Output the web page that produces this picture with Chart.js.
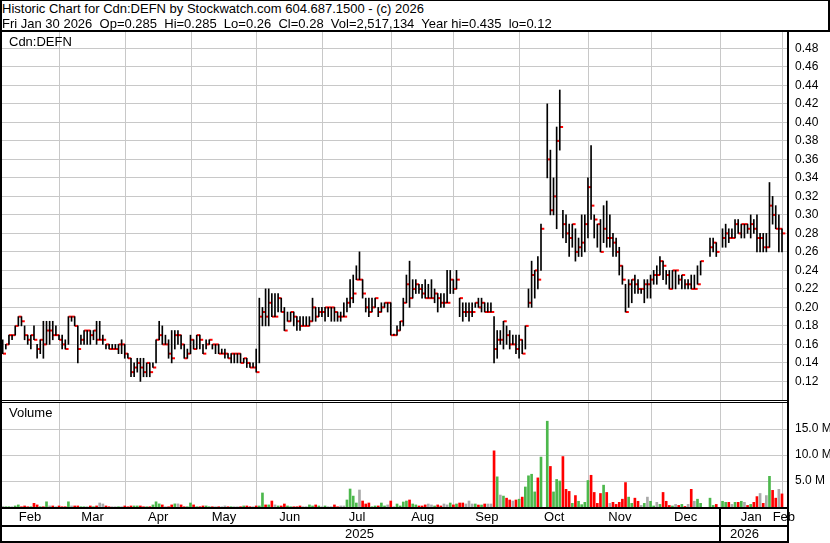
<!DOCTYPE html>
<html>
<head>
<meta charset="utf-8">
<title>Cdn:DEFN</title>
<script src="https://cdn.jsdelivr.net/npm/chart.js@4.4.1/dist/chart.umd.min.js"></script>
<style>
  body { margin: 0; background: #fff; }
  #page { position: relative; width: 830px; height: 543px; overflow: hidden; font-family: "Liberation Sans", Arial, sans-serif; color: #000; }
  canvas { position: absolute; left: 0; }
  .ln { position: absolute; background: #000; }
  .txt { position: absolute; font-size: 13px; line-height: 15px; white-space: pre; }
</style>
</head>
<body>
<div id="page">
  <canvas id="priceChart" width="830" height="368" style="top:32px"></canvas>
  <canvas id="volChart" width="830" height="140" style="top:403px"></canvas>

  <div class="txt" style="left:2px;top:1px">Historic Chart for Cdn:DEFN by Stockwatch.com 604.687.1500 - (c) 2026</div>
  <div class="txt" style="left:2px;top:16px">Fri Jan 30 2026  Op=0.285  Hi=0.285  Lo=0.26  Cl=0.28  Vol=2,517,134  Year hi=0.435  lo=0.12</div>
  <div class="txt" style="left:9px;top:34px">Cdn:DEFN</div>
  <div class="txt" style="left:9px;top:405px">Volume</div>

  <!-- frame -->
  <div class="ln" style="left:0;top:0;width:830px;height:1px"></div>
  <div class="ln" style="left:0;top:30px;width:830px;height:2px"></div>
  <div class="ln" style="left:828px;top:0;width:2px;height:32px"></div>
  <div class="ln" style="left:0;top:0;width:2px;height:543px"></div>
  <div class="ln" style="left:787px;top:32px;width:2px;height:511px"></div>
  <div class="ln" style="left:0;top:400px;width:788px;height:1px"></div>
  <div class="ln" style="left:0;top:402px;width:788px;height:1px"></div>
  <div class="ln" style="left:0;top:507px;width:788px;height:2px"></div>
  <div class="ln" style="left:0;top:525px;width:788px;height:2px"></div>
  <div class="ln" style="left:0;top:541px;width:788px;height:2px"></div>
  <div class="ln" style="left:719px;top:507px;width:2px;height:36px"></div>
</div>

<script>
// one bar per trading day, Feb 2025 .. Jan 30 2026 (null = no trade)
const months = ['Feb', 'Mar', 'Apr', 'May', 'Jun', 'Jul', 'Aug', 'Sep', 'Oct', 'Nov', 'Dec', 'Jan', 'Feb'];
const monthStart = [0, 19, 40, 61, 82, 103, 125, 145, 166, 188, 208, 230, 250];
const years = ['2025', '2026'];
const yearPos = [114, 237];
const priceTicks = [0.12, 0.14, 0.16, 0.18, 0.20, 0.22, 0.24, 0.26, 0.28, 0.30,
                    0.32, 0.34, 0.36, 0.38, 0.40, 0.42, 0.44, 0.46, 0.48];
const volTicks = [5e6, 10e6, 15e6];

const high = [
  .165,.16,.17,.17,.18,.19,.19,.18,.17,.17,.18,.16,.165,.185,.185,.185,.185,.18,.17,          // Feb
  .17,.165,.19,.19,.19,.18,.17,.175,.175,.175,.175,.185,.185,.17,.16,.16,.16,.16,.16,.165,.16, // Mar
  .15,.145,.14,.145,.145,.145,.14,.14,.14,.165,.185,.18,.17,.165,.175,.175,.175,.17,.16,.155,.17, // Apr
  .165,.17,.17,.16,.165,.165,.16,.16,.16,.155,.155,.15,.15,.15,.15,.15,.145,.145,.14,.14,.155, // May
  .21,.20,.22,.22,.215,.215,.215,.21,.20,.195,.195,.195,.19,.19,.19,.19,.19,.21,.20,.20,.20,  // Jun
  .20,.20,.20,.20,.195,.195,.205,.21,.23,.235,.245,.26,.23,.21,.21,.21,.21,.20,.205,.205,.205,.205, // Jul
  .17,.18,.185,.21,.235,.25,.23,.23,.225,.225,.23,.225,.23,.22,.215,.215,.215,.24,.24,.23,  // Aug
  .24,.21,.205,.205,.205,.205,.205,.21,.21,.205,.205,.205,.19,.175,.175,.185,.18,.175,.17,.17,.17, // Sep
  .165,.18,.22,.25,.24,.255,.29,null,.42,.37,.34,.395,.435,.305,.30,.29,.29,.285,.275,.30,.30,.34, // Oct
  .375,.30,.29,.295,.31,.315,.30,.28,.275,.265,.245,.225,.23,.23,.235,.23,.22,.23,.23,.235, // Nov
  .24,.245,.255,.25,.24,.24,.24,.24,.235,.235,.23,.23,.235,.235,.245,.25,null,null,.275,.275,.27,null, // Dec
  .285,.29,.285,.285,.295,.295,.29,.29,.29,.30,.295,.30,.28,.28,.28,.335,.32,.31,.30,.285  // Jan
];
const low = [
  .15,.155,.16,.165,.17,.18,.18,.165,.16,.155,.165,.145,.15,.145,.16,.16,.165,.17,.165,
  .155,.155,.16,.185,.18,.14,.16,.16,.16,.16,.165,.16,.165,.16,.155,.155,.155,.155,.15,.15,.145,
  .145,.125,.125,.13,.12,.125,.125,.125,.135,.14,.165,.16,.16,.145,.14,.155,.16,.155,.145,.145,.15,
  .155,.155,.155,.15,.155,.16,.155,.15,.15,.15,.145,.145,.14,.14,.14,.14,.14,.135,.135,.135,.13,
  .14,.18,.18,.18,.19,.19,.195,.195,.175,.185,.185,.18,.175,.175,.18,.18,.18,.185,.185,.19,.19,
  .185,.19,.185,.185,.185,.185,.19,.195,.20,.205,.23,.23,.21,.195,.19,.195,.20,.19,.195,.20,.195,.17,
  .17,.17,.175,.18,.205,.20,.21,.215,.215,.21,.21,.21,.21,.205,.195,.20,.20,.205,.215,.215,
  .22,.19,.185,.19,.185,.19,.20,.20,.195,.195,.195,.195,.14,.145,.16,.155,.16,.155,.16,.15,.145,
  .15,.155,.20,.20,.21,.22,.24,null,.34,.30,.30,.285,.37,.275,.27,.255,.265,.25,.255,.255,.26,.275,
  .295,.275,.265,.26,.27,.265,.265,.255,.255,.235,.225,.195,.20,.205,.215,.215,.215,.205,.21,.21,
  .225,.225,.235,.23,.225,.22,.22,.22,.225,.22,.22,.22,.22,.22,.225,.235,null,null,.255,.26,.255,null,
  .265,.265,.27,.275,.275,.28,.275,.275,.28,.275,.28,.26,.26,.26,.26,.265,.29,.285,.26,.26
];
const close = [
  .15,.16,.17,.17,.18,.19,.185,.17,.165,.17,.165,.155,.165,.16,.175,.175,.17,.17,.165,
  .16,.155,.19,.19,.18,.155,.165,.175,.175,.17,.175,.165,.165,.165,.16,.155,.155,.155,.16,.16,.15,
  .145,.13,.135,.14,.135,.13,.14,.13,.135,.165,.17,.16,.16,.15,.145,.17,.17,.16,.145,.15,.165,
  .155,.17,.165,.15,.16,.165,.16,.16,.15,.15,.15,.145,.15,.15,.15,.14,.145,.14,.135,.135,.13,
  .19,.195,.19,.205,.19,.19,.21,.195,.175,.185,.195,.19,.185,.18,.18,.18,.185,.20,.19,.195,.195,
  .20,.20,.20,.195,.19,.19,.19,.205,.21,.215,.23,.23,.215,.20,.195,.20,.21,.195,.20,.205,.205,.17,
  .17,.175,.185,.205,.225,.21,.22,.225,.22,.215,.21,.21,.21,.215,.21,.205,.205,.205,.23,.22,
  .23,.21,.195,.195,.195,.195,.205,.20,.205,.195,.195,.195,.155,.165,.165,.185,.17,.16,.16,.155,.165,
  .15,.18,.205,.235,.24,.23,.285,null,.36,.305,.32,.38,.395,.29,.28,.275,.29,.26,.265,.27,.29,.33,
  .31,.295,.29,.26,.285,.275,.275,.27,.26,.245,.23,.195,.225,.23,.225,.22,.22,.225,.225,.23,
  .235,.235,.25,.245,.235,.22,.24,.24,.23,.235,.225,.225,.22,.22,.225,.25,null,null,.265,.27,.26,null,
  .275,.28,.275,.275,.29,.28,.29,.29,.285,.29,.285,.275,.275,.265,.265,.31,.30,.285,.285,.28
];
// millions of shares
const volume = [
  .1,.05,.05,.05,.2,.4,.05,.2,.05,.05,.7,.4,.05,.05,1.0,.2,.2,.05,.2,
  .05,.05,1.0,.2,.2,.2,.05,.05,.05,.2,.05,.2,.77,.58,.2,.05,.05,.05,.05,.05,.2,
  .05,.2,.2,.2,.2,.05,.05,.05,.4,1.0,.6,.4,.05,.05,.4,.6,.6,.4,.05,.05,.77,
  .4,.05,.05,.2,.2,.05,.05,.05,.05,.05,.2,.05,.05,.05,.05,.05,.2,.2,.05,.05,.2,
  .2,2.7,.4,.4,1.15,.4,.2,.2,.58,.2,.05,.05,.05,.2,.05,.05,.4,.2,.4,.2,.05,
  .2,.05,.05,.4,.05,.2,.2,1.35,3.46,2.1,.77,3.27,1.15,.58,.77,.05,.2,.2,.77,.2,.4,1.15,
  .05,.58,.2,.96,1.15,1.35,.58,.4,.2,.2,.4,.58,.4,.2,.4,.2,.58,.4,.77,.4,
  .58,.77,.77,.58,1.15,.58,.58,.38,.38,.58,.58,.58,10.8,5.8,2.3,2.1,1.7,1.35,1.15,1.35,1.5,
  1.9,3.85,6.0,6.3,2.9,5.6,9.6,0,16.5,7.8,2.9,5.3,5.0,9.7,3.4,3.0,.7,2.2,1.1,.45,.9,5.1,
  6.1,2.8,.7,2.6,4.2,2.8,.7,.9,.5,.9,1.5,4.7,1.9,.7,1.7,1.1,.3,.7,1.9,1.1,
  .2,.9,.5,2.8,1.1,.3,.2,.5,.3,.5,.1,.5,3.4,1.1,1.5,.7,0,0,1.7,.3,.5,0,
  1.1,.9,.9,.5,.9,.9,1.1,.9,.3,.5,.9,2.0,2.6,.7,2.2,5.9,3.2,1.7,3.4,2.52
];

Chart.defaults.font.family = '"Liberation Sans", Arial, sans-serif';
Chart.defaults.color = '#000';

const GRID = '#c8c8c8';
const UP = '#4cb84c', DOWN = '#ff0000', FLAT = '#a9a9a9';
const xMin = -0.22, xMax = 250.92;

// month boundaries sit just left of each month's first bar
const gridPos = monthStart.slice(1).map(s => s - 0.8);
const labelPos = months.map((m, k) => {
  if (k === months.length - 1) return monthStart[k] - 0.4;
  const a = k === 0 ? -0.8 : monthStart[k] - 0.8;
  return (a + monthStart[k + 1] - 0.8) / 2;
});

const hlBars = [], closeTicks = [], volBars = [], volColors = [];
let prev = null;
high.forEach((h, i) => {
  if (h == null) return;
  hlBars.push({ x: i, y: [low[i], h] });
  closeTicks.push({ x: i + 0.55, y: close[i] });
  const c = close[i];
  const col = prev == null || c === prev ? FLAT : (c > prev ? UP : DOWN);
  prev = c;
  if (volume[i] > 0) {
    volBars.push({ x: i, y: volume[i] * 1e6 });
    volColors.push(col);
  }
});

// keep the plot area exactly where the canvas puts it
function noPad(s) {
  s.paddingTop = 0; s.paddingBottom = 0; s.paddingLeft = 0; s.paddingRight = 0;
}

const common = {
  responsive: false,
  animation: false,
  devicePixelRatio: 1,
  events: [],
  layout: { autoPadding: false, padding: { left: 2, right: 0, top: 0, bottom: 0 } },
  plugins: { legend: { display: false }, tooltip: { enabled: false } }
};

new Chart(document.getElementById('priceChart'), {
  type: 'bar',
  data: {
    datasets: [
      {
        type: 'bar',
        data: hlBars,
        backgroundColor: '#000',
        barThickness: 1,
        minBarLength: 1,
        grouped: false
      },
      {
        type: 'scatter',
        data: closeTicks,
        pointStyle: 'line',
        pointRadius: 1.6,
        borderColor: '#ff0000',
        borderWidth: 2
      }
    ]
  },
  options: {
    ...common,
    scales: {
      x: {
        type: 'linear', min: xMin, max: xMax, offset: false,
        afterBuildTicks: s => { s.ticks = gridPos.map(v => ({ value: v })); },
        afterFit: s => { s.height = 0; noPad(s); },
        ticks: { display: false },
        grid: { color: GRID, drawTicks: false, offset: false },
        border: { display: false }
      },
      y: {
        position: 'right', min: 0.0999, max: 0.4977,
        afterBuildTicks: s => { s.ticks = priceTicks.map(v => ({ value: v })); },
        afterFit: s => { s.width = 42; noPad(s); },
        ticks: { padding: 7, font: { size: 12 }, callback: v => v.toFixed(2) },
        grid: { color: GRID, drawTicks: false },
        border: { display: false }
      }
    }
  }
});

const gridSet = new Set(gridPos);
const monthAt = new Map(labelPos.map((v, k) => [v, months[k]]));
const yearAt = new Map(yearPos.map((v, k) => [v, years[k]]));

new Chart(document.getElementById('volChart'), {
  type: 'bar',
  data: {
    datasets: [{
      data: volBars,
      backgroundColor: volColors,
      barThickness: 2,
      grouped: false
    }]
  },
  options: {
    ...common,
    scales: {
      x: {
        type: 'linear', min: xMin, max: xMax, offset: false, weight: 0,
        afterBuildTicks: s => {
          s.ticks = gridPos.concat(labelPos).sort((a, b) => a - b).map(v => ({ value: v }));
        },
        afterFit: s => { s.height = 18; noPad(s); },
        ticks: {
          autoSkip: false, maxRotation: 0, minRotation: 0, padding: 3,
          font: { size: 13 },
          callback: v => monthAt.get(v) || ''
        },
        grid: {
          drawTicks: false,
          offset: false,
          color: ctx => (ctx.tick && gridSet.has(ctx.tick.value)) ? GRID : 'rgba(0,0,0,0)'
        },
        border: { display: false }
      },
      yr: {
        type: 'linear', position: 'bottom', min: xMin, max: xMax, offset: false, weight: 1,
        afterBuildTicks: s => { s.ticks = yearPos.map(v => ({ value: v })); },
        afterFit: s => { s.height = 18; noPad(s); },
        ticks: {
          autoSkip: false, maxRotation: 0, minRotation: 0, padding: 2,
          font: { size: 13 },
          callback: v => yearAt.get(v) || ''
        },
        grid: { display: false, drawTicks: false, offset: false },
        border: { display: false }
      },
      y: {
        position: 'right', min: 0, max: 20e6,
        afterBuildTicks: s => { s.ticks = volTicks.map(v => ({ value: v })); },
        afterFit: s => { s.width = 42; noPad(s); },
        ticks: { padding: 7, font: { size: 12 }, callback: v => (v / 1e6).toFixed(1) + ' M' },
        grid: { color: GRID, drawTicks: false },
        border: { display: false }
      }
    }
  }
});
</script>
</body>
</html>
